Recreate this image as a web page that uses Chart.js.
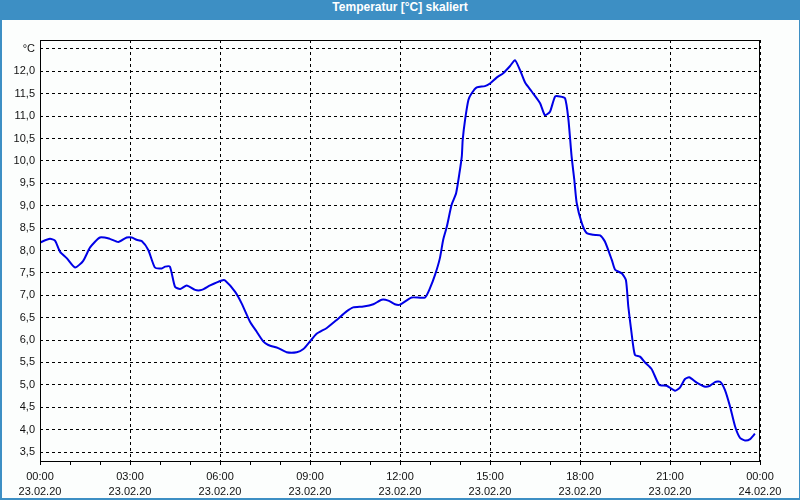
<!DOCTYPE html>
<html>
<head>
<meta charset="utf-8">
<script src="https://cdn.jsdelivr.net/npm/chart.js@4"></script>
<style>
  body { margin: 0; width: 800px; height: 500px; background: #3d8fc4; position: relative; overflow: hidden; }
  #titel { position: absolute; left: 0; top: 0; width: 800px; height: 20px; line-height: 20px; text-align: center;
           color: #fff; font: bold 12px "Liberation Sans", sans-serif; }
  #panel { position: absolute; left: 2px; top: 20px; width: 797px; height: 478px; background: #fcfefd; }
  #wrap { position: absolute; left: 0; top: 20px; width: 800px; height: 478px; }
</style>
</head>
<body>
<div id="titel">Temperatur [°C] skaliert</div>
<div id="panel"></div>
<div id="wrap"><canvas id="grafik" width="800" height="478"></canvas></div>
<script>
// Messwerte: Stunden seit 23.02.20 00:00 und Temperatur in °C
const stunden = [0.00, 0.33, 0.50, 0.67, 0.89, 1.17, 1.44, 1.67, 2.00, 2.33, 2.61, 2.89, 3.06, 3.22, 3.39, 3.61,
  3.83, 4.06, 4.17, 4.33, 4.50, 4.67, 4.89, 5.17, 5.39, 5.67, 6.06, 6.17, 6.50, 6.72, 7.00, 7.22, 7.44, 7.61,
  7.94, 8.22, 8.56, 8.78, 9.00, 9.22, 9.56, 9.89, 10.22, 10.44, 10.78, 11.11, 11.39, 11.61, 11.83, 12.00,
  12.39, 12.83, 13.00, 13.17, 13.33, 13.44, 13.56, 13.72, 13.87, 13.98, 14.06, 14.09, 14.17, 14.28, 14.39,
  14.56, 14.83, 15.00, 15.22, 15.44, 15.67, 15.83, 16.00, 16.17, 16.39, 16.67, 16.83, 17.00, 17.17, 17.33,
  17.50, 17.61, 17.72, 17.81, 17.89, 18.06, 18.22, 18.44, 18.67, 18.83, 19.06, 19.17, 19.39, 19.53, 19.61,
  19.72, 19.83, 20.00, 20.17, 20.39, 20.64, 20.89, 21.17, 21.33, 21.50, 21.64, 21.89, 22.17, 22.33, 22.50,
  22.67, 22.83, 23.00, 23.17, 23.33, 23.50, 23.67, 23.83];
const temperatur = [8.18, 8.26, 8.22, 7.97, 7.83, 7.62, 7.77, 8.07, 8.29, 8.26, 8.19, 8.29, 8.29, 8.24, 8.21, 8.01,
  7.62, 7.60, 7.64, 7.64, 7.19, 7.14, 7.22, 7.12, 7.12, 7.22, 7.33, 7.33, 7.08, 6.82, 6.41, 6.19, 5.97, 5.89,
  5.82, 5.73, 5.73, 5.80, 5.97, 6.14, 6.27, 6.45, 6.64, 6.73, 6.75, 6.80, 6.90, 6.88, 6.80, 6.79,
  6.95, 6.95, 7.16, 7.46, 7.83, 8.24, 8.53, 9.02, 9.28, 9.72, 10.10, 10.47, 10.92, 11.36, 11.51,
  11.64, 11.67, 11.73, 11.86, 11.96, 12.12, 12.25, 12.03, 11.75, 11.55, 11.29, 11.02, 11.10, 11.44, 11.44,
  11.40, 10.95, 10.10, 9.58, 9.06, 8.61, 8.39, 8.35, 8.34, 8.20, 7.79, 7.57, 7.49, 7.34, 6.75,
  6.15, 5.67, 5.63, 5.50, 5.35, 5.00, 4.98, 4.87, 4.94, 5.13, 5.17, 5.05, 4.96, 4.98, 5.06,
  5.07, 4.89, 4.52, 4.07, 3.82, 3.76, 3.79, 3.91];

// Achsen
const yTicks = [3.5, 4.0, 4.5, 5.0, 5.5, 6.0, 6.5, 7.0, 7.5, 8.0, 8.5, 9.0, 9.5, 10.0, 10.5, 11.0, 11.5, 12.0, 12.5];
const xTicks = [0, 1, 2, 3, 4, 5, 6, 7, 8, 9, 10, 11, 12, 13, 14, 15, 16, 17, 18, 19, 20, 21, 22, 23, 24];
const zeitLabels = ["00:00", "03:00", "06:00", "09:00", "12:00", "15:00", "18:00", "21:00", "00:00"];
const datumLabels = ["23.02.20", "23.02.20", "23.02.20", "23.02.20", "23.02.20", "23.02.20", "23.02.20", "23.02.20", "24.02.20"];

const punkte = stunden.map((h, i) => ({ x: h, y: temperatur[i] }));

// Rahmen um den Plotbereich (alle vier Seiten)
const rahmen = {
  id: 'rahmen',
  afterDraw(chart) {
    const a = chart.chartArea;
    const ctx = chart.ctx;
    ctx.save();
    ctx.strokeStyle = '#000';
    ctx.lineWidth = 1;
    ctx.strokeRect(Math.round(a.left) + 0.5, Math.round(a.top) + 0.5, Math.round(a.right - a.left) - 1, Math.round(a.bottom - a.top));
    ctx.restore();
  }
};

const schrift = { family: '"Liberation Sans", sans-serif', size: 11 };

new Chart(document.getElementById("grafik"), {
  type: 'line',
  data: {
    datasets: [{
      data: punkte,
      borderColor: 'rgb(0, 0, 230)',
      borderWidth: 2,
      pointRadius: 0,
      tension: 0.2,
      fill: false
    }]
  },
  options: {
    responsive: false,
    animation: false,
    events: [],
    layout: { padding: { left: 0, right: 40, top: 20, bottom: 0 } },
    plugins: { legend: { display: false }, tooltip: { enabled: false } },
    scales: {
      x: {
        type: 'linear',
        min: 0,
        max: 24,
        afterBuildTicks: s => { s.ticks = xTicks.map(v => ({ value: v })); },
        afterFit: s => { s.height = 37; },
        grid: {
          color: c => (c.tick && c.tick.value % 3 === 0) ? '#000' : 'rgba(0,0,0,0)',
          tickColor: '#000',
          tickLength: 4,
          tickBorderDash: [],
          lineWidth: 1
        },
        border: { display: false, dash: [3, 3] },
        ticks: {
          autoSkip: false,
          maxRotation: 0,
          padding: 5,
          color: '#111',
          font: { ...schrift, lineHeight: 1.35 },
          callback: v => v % 3 === 0 ? [zeitLabels[v / 3], datumLabels[v / 3]] : ''
        }
      },
      y: {
        type: 'linear',
        min: 3.3,
        max: 12.7,
        afterBuildTicks: s => { s.ticks = yTicks.map(v => ({ value: v })); },
        afterFit: s => { s.width = 40; },
        grid: { color: '#000', drawTicks: false, lineWidth: 1 },
        border: { display: false, dash: [3, 3] },
        ticks: {
          padding: 5,
          color: '#111',
          font: schrift,
          callback: v => v === 12.5 ? '°C' : v.toFixed(1).replace('.', ',')
        }
      }
    }
  },
  plugins: [rahmen]
});
</script>
</body>
</html>
